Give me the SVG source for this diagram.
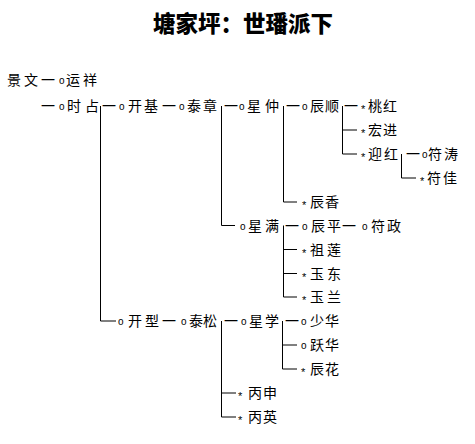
<svg xmlns="http://www.w3.org/2000/svg" width="475" height="444" viewBox="0 0 475 444">
<style>
.t{font-family:"Noto Sans CJK SC","Noto Sans CJK JP",sans-serif;font-size:14px;fill:#000}
.ti{font-family:"Noto Sans CJK SC","Noto Sans CJK JP",sans-serif;font-size:22.5px;font-weight:900;fill:#000}
.o{font-family:"Liberation Sans",sans-serif;font-size:10px}
.s{font-family:"Liberation Sans",sans-serif;font-size:11px}
.c{stroke:#000;stroke-width:1;fill:none}
</style>
<rect width="475" height="444" fill="#fff"/>
<text class="ti" x="153" y="32">塘家坪：世璠派下</text>
<g id="connectors">
<path class="c" d="M100.5 106 V321 H116"/>
<path class="c" d="M221.5 106 V225.5 H235"/>
<path class="c" d="M283.5 106 V202 H297"/>
<path class="c" d="M342.5 106 V154 H357 M342.5 130 H357"/>
<path class="c" d="M401.5 154 V178 H416"/>
<path class="c" d="M283.5 225.5 V297 H297 M283.5 249.5 H297 M283.5 273.5 H297"/>
<path class="c" d="M221.5 321 V417 H236 M221.5 393 H236"/>
<path class="c" d="M282.5 321 V369 H297 M282.5 345 H297"/>
<text class="t" x="41" y="85">一</text>
<text class="t" x="41" y="111">一</text>
<text class="t" x="102" y="111">一</text>
<text class="t" x="162" y="111">一</text>
<text class="t" x="224" y="111">一</text>
<text class="t" x="286" y="111">一</text>
<text class="t" x="344" y="111">一</text>
<text class="t" x="406" y="159">一</text>
<text class="t" x="285" y="230.5">一</text>
<text class="t" x="342" y="230.5">一</text>
<text class="t" x="162" y="326">一</text>
<text class="t" x="224" y="326">一</text>
<text class="t" x="285" y="326">一</text>
</g>
<g id="jingwen"><text class="t" x="7 24" y="85">景文</text></g>
<g id="yunxiang"><text class="t"><tspan class="o" x="59" y="84">o</tspan><tspan x="66 83" y="85">运祥</tspan></text></g>
<g id="shizhan"><text class="t"><tspan class="o" x="59" y="110">o</tspan><tspan x="67 85" y="111">时占</tspan></text></g>
<g id="kaiji"><text class="t"><tspan class="o" x="119" y="110">o</tspan><tspan x="128 144" y="111">开基</tspan></text></g>
<g id="taizhang"><text class="t"><tspan class="o" x="179" y="110">o</tspan><tspan x="187 203" y="111">泰章</tspan></text></g>
<g id="xingzhong"><text class="t"><tspan class="o" x="239" y="110">o</tspan><tspan x="247 265" y="111">星仲</tspan></text></g>
<g id="chenshun"><text class="t"><tspan class="o" x="302" y="110">o</tspan><tspan x="310 325" y="111">辰顺</tspan></text></g>
<g id="taohong"><text class="t"><tspan class="s" x="361" y="113">*</tspan><tspan x="368 383" y="111">桃红</tspan></text></g>
<g id="hongjin"><text class="t"><tspan class="s" x="361" y="137">*</tspan><tspan x="368 383" y="135">宏进</tspan></text></g>
<g id="yinghong"><text class="t"><tspan class="s" x="361" y="161">*</tspan><tspan x="368 384" y="159">迎红</tspan></text></g>
<g id="futao"><text class="t"><tspan class="o" x="422" y="158">o</tspan><tspan x="428 444" y="159">符涛</tspan></text></g>
<g id="fujia"><text class="t"><tspan class="s" x="420" y="185">*</tspan><tspan x="427 443" y="183">符佳</tspan></text></g>
<g id="chenxiang"><text class="t"><tspan class="s" x="302" y="209">*</tspan><tspan x="310 325" y="207">辰香</tspan></text></g>
<g id="xingman"><text class="t"><tspan class="o" x="240" y="229.5">o</tspan><tspan x="248 265" y="230.5">星满</tspan></text></g>
<g id="chenping"><text class="t"><tspan class="o" x="302" y="229.5">o</tspan><tspan x="311 327" y="230.5">辰平</tspan></text></g>
<g id="fuzheng"><text class="t"><tspan class="o" x="362" y="229.5">o</tspan><tspan x="371 387" y="230.5">符政</tspan></text></g>
<g id="zulian"><text class="t"><tspan class="s" x="302" y="256.5">*</tspan><tspan x="310 327" y="254.5">祖莲</tspan></text></g>
<g id="yudong"><text class="t"><tspan class="s" x="302" y="280.5">*</tspan><tspan x="310 327" y="278.5">玉东</tspan></text></g>
<g id="yulan"><text class="t"><tspan class="s" x="302" y="304">*</tspan><tspan x="310 327" y="302">玉兰</tspan></text></g>
<g id="kaixing"><text class="t"><tspan class="o" x="118" y="325">o</tspan><tspan x="128 145" y="326">开型</tspan></text></g>
<g id="taisong"><text class="t"><tspan class="o" x="181" y="325">o</tspan><tspan x="189 203" y="326">泰松</tspan></text></g>
<g id="xingxue"><text class="t"><tspan class="o" x="241" y="325">o</tspan><tspan x="249 265" y="326">星学</tspan></text></g>
<g id="shaohua"><text class="t"><tspan class="o" x="301" y="325">o</tspan><tspan x="310 325" y="326">少华</tspan></text></g>
<g id="yuehua"><text class="t"><tspan class="o" x="301" y="349">o</tspan><tspan x="310 325" y="350">跃华</tspan></text></g>
<g id="chenhua"><text class="t"><tspan class="s" x="301" y="376">*</tspan><tspan x="310 325" y="374">辰花</tspan></text></g>
<g id="bingshen"><text class="t"><tspan class="s" x="238" y="400">*</tspan><tspan x="248 263" y="398">丙申</tspan></text></g>
<g id="bingying"><text class="t"><tspan class="s" x="238" y="424">*</tspan><tspan x="248 263" y="422">丙英</tspan></text></g>
</svg>
